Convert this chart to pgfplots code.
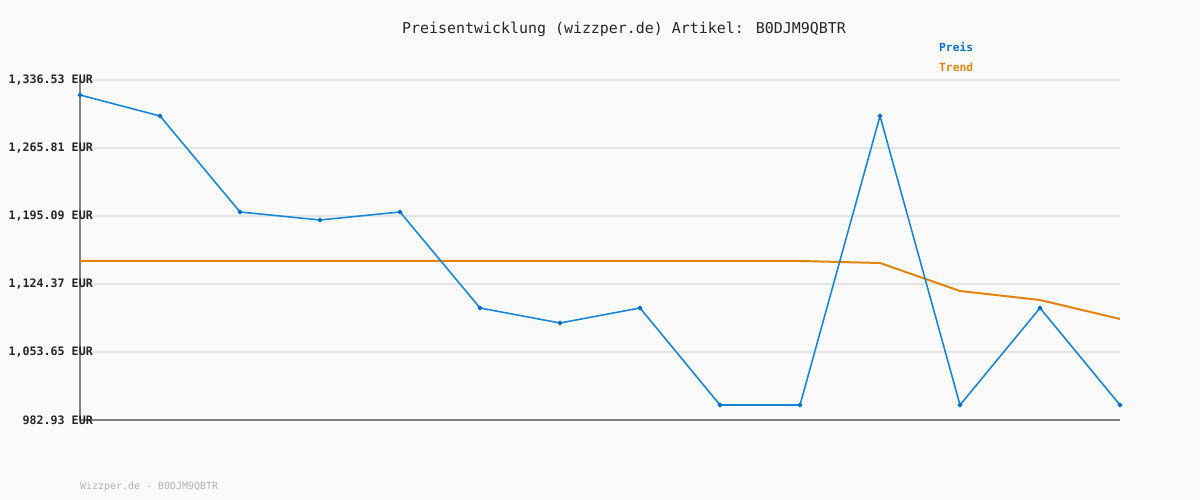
\documentclass[border=0pt]{standalone}
\usepackage{pgfplots}
\pgfplotsset{compat=1.18}
\usepackage{fontspec}
\setmainfont{DejaVu Sans Mono}
\definecolor{bg}{HTML}{FAFAFA}
\definecolor{preis}{HTML}{1A87D6}
\definecolor{preistxt}{HTML}{0A6FC2}
\definecolor{trend}{HTML}{E3840F}
\definecolor{gridc}{HTML}{E4E4E4}
\definecolor{axisc}{HTML}{808080}
\begin{document}
\begin{tikzpicture}[x=1bp,y=1bp]
\fill[bg] (0,0) rectangle (1200,500);
\useasboundingbox (0,0) rectangle (1200,500);
\node[font=\fontsize{15}{17}\selectfont, text=black!85] at (624,471) {Preisentwicklung (wizzper.de) Artikel: B0DJM9QBTR};
\node[font=\fontsize{11.3}{13}\selectfont\bfseries, text=preistxt, anchor=west, inner sep=0] at (939,453) {Preis};
\node[font=\fontsize{11.3}{13}\selectfont\bfseries, text=trend, anchor=west, inner sep=0] at (939,433) {Trend};
\node[font=\fontsize{10}{12}\selectfont, text=black!30, anchor=west, inner sep=0] at (80,13) {Wizzper.de - B0DJM9QBTR};
\begin{axis}[
  at={(80bp,80bp)}, anchor=south west,
  scale only axis, width=1040bp, height=340bp,
  xmin=0, xmax=13, ymin=982.93, ymax=1336.53,
  axis x line=bottom, axis y line=left,
  axis line style={axisc, line width=2bp, -},
  xtick=\empty,
  ytick={982.93,1053.65,1124.37,1195.09,1265.81,1336.53},
  yticklabels={982.93 EUR,{1,053.65 EUR},{1,124.37 EUR},{1,195.09 EUR},{1,265.81 EUR},{1,336.53 EUR}},
  yticklabel style={font=\fontsize{11.7}{13}\selectfont\bfseries, text=black!85, inner sep=0pt, xshift=13bp},
  major tick length=0pt,
  ymajorgrids, major grid style={gridc, line width=2.5bp},
  clip=false,
]
\addplot[trend, line width=2bp] coordinates {
(0,1148.29) (1,1148.29) (2,1148.29) (3,1148.29) (4,1148.29) (5,1148.29) (6,1148.29)
(7,1148.29) (8,1148.29) (9,1148.29) (10,1146.21) (11,1117.09) (12,1107.73) (13,1087.97)};
\addplot[preis, line width=1.6bp, mark=*, mark size=1.5bp, mark options={fill=preistxt, draw=preistxt}] coordinates {
(0,1320.93) (1,1299.09) (2,1199.25) (3,1190.93) (4,1199.25) (5,1099.41) (6,1083.81)
(7,1099.41) (8,998.53) (9,998.53) (10,1299.09) (11,998.53) (12,1099.41) (13,998.53)};
\end{axis}
\end{tikzpicture}
\end{document}
